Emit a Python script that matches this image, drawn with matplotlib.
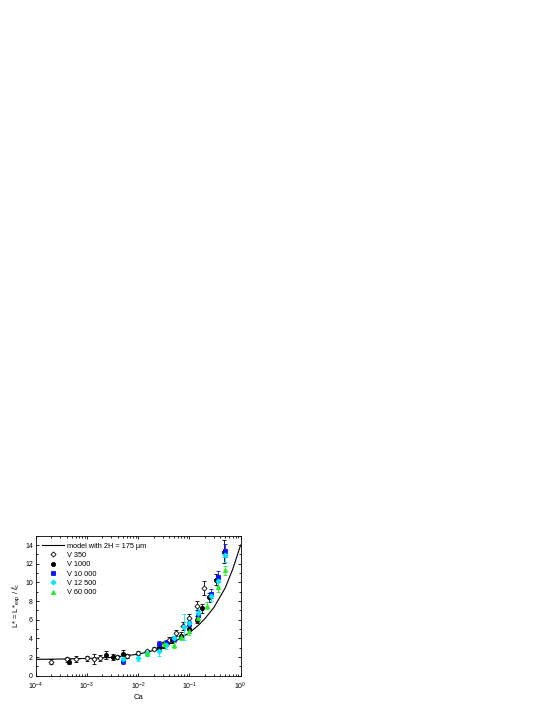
import numpy as np
import matplotlib
matplotlib.use("Agg")
import matplotlib.pyplot as plt

plt.rcParams["font.family"] = ["Liberation Sans", "DejaVu Sans"]
plt.rcParams["mathtext.fontset"] = "custom"
plt.rcParams["mathtext.rm"] = "Liberation Sans"
plt.rcParams["mathtext.it"] = "Liberation Sans:italic"

# model curve
model_ca = [1e-4, 3e-4, 1e-3, 3e-3, 1e-2, 2e-2, 3e-2, 5e-2, 0.1, 0.15, 0.2, 0.3, 0.5, 0.7, 1.0]
model_l = [1.75, 1.78, 1.85, 1.95, 2.3, 2.7, 3.05, 3.6, 4.6, 5.4, 6.1, 7.3, 9.4, 11.4, 14.0]

# V 350
v350_ca = [2e-4, 4e-4, 6e-4, 1e-3, 1.4e-3, 1.8e-3, 3.8e-3, 6e-3, 1e-2, 1.5e-2, 2e-2, 3e-2, 4e-2, 5.5e-2, 7.5e-2, 0.1, 0.14, 0.19]
v350_l = [1.5, 1.75, 1.8, 1.85, 1.8, 1.9, 2.0, 2.1, 2.4, 2.6, 2.9, 3.3, 3.8, 4.6, 5.3, 6.2, 7.5, 9.4]
v350_e = [0.3, 0.3, 0.3, 0.3, 0.5, 0.3, 0.2, 0.2, 0.2, 0.2, 0.2, 0.3, 0.3, 0.3, 0.4, 0.4, 0.5, 0.8]

# V 1000
v1000_ca = [4.5e-4, 2.4e-3, 3.3e-3, 5e-3, 2.5e-2, 4.5e-2, 7e-2, 0.1, 0.14, 0.18, 0.24, 0.33, 0.47]
v1000_l = [1.5, 2.2, 2.0, 2.3, 3.0, 3.8, 4.3, 5.0, 6.0, 7.2, 8.4, 10.3, 13.3]
v1000_e = [0.3, 0.4, 0.3, 0.5, 0.3, 0.3, 0.4, 0.4, 0.4, 0.5, 0.5, 0.6, 1.2]

# V 10 000
v10k_ca = [5e-3, 2.5e-2, 3.5e-2, 5e-2, 0.1, 0.15, 0.26, 0.36, 0.5]
v10k_l = [1.6, 3.4, 3.5, 3.9, 5.5, 6.5, 8.8, 10.6, 13.4]
v10k_e = [0.3, 0.3, 0.3, 0.3, 0.4, 0.4, 0.5, 0.6, 0.7]

# V 12 500
v12k_ca = [5e-3, 1e-2, 1.5e-2, 2.5e-2, 3.5e-2, 5e-2, 8e-2, 0.1, 0.15, 0.26, 0.37, 0.5]
v12k_l = [1.8, 1.9, 2.4, 2.6, 3.3, 4.0, 5.2, 5.6, 6.7, 8.5, 10.1, 12.9]
v12k_e = [0.3, 0.3, 0.3, 0.5, 0.4, 0.3, 1.4, 0.4, 0.4, 0.5, 0.5, 0.7]

# V 60 000
v60k_ca = [1.5e-2, 3.2e-2, 4.9e-2, 7e-2, 0.1, 0.15, 0.22, 0.36, 0.5]
v60k_l = [2.4, 3.4, 3.3, 4.1, 4.8, 6.2, 7.5, 9.5, 11.3]
v60k_e = [0.3, 0.3, 0.3, 0.3, 0.4, 0.4, 0.4, 0.5, 0.5]

fig = plt.figure(figsize=(5.45, 7.05), dpi=100)
ax = fig.add_axes([0.0655, 0.0416, 0.376, 0.1985])

ax.plot(model_ca, model_l, "-", color="black", lw=0.8, label="model with 2H = 175 µm", zorder=1)

series = [
    (v350_ca, v350_l, v350_e, "D", "white", "black", "V 350", 2.6),
    (v1000_ca, v1000_l, v1000_e, "o", "black", "black", "V 1000", 3.0),
    (v10k_ca, v10k_l, v10k_e, "s", "#1010ff", "#1010ff", "V 10 000", 2.8),
    (v12k_ca, v12k_l, v12k_e, "D", "#00e8ff", "#00e8ff", "V 12 500", 2.6),
    (v60k_ca, v60k_l, v60k_e, "^", "#22ee22", "#22ee22", "V 60 000", 3.0),
]
for ca, l, e, m, fc, ec, lab, ms in series:
    ax.errorbar(ca, l, yerr=e, fmt="none", ecolor=ec, elinewidth=0.6,
                capsize=1.5, capthick=0.6, zorder=2)
    ax.plot(ca, l, m, ms=ms, mfc=fc, mec=ec, mew=0.6, ls="none", label=lab, zorder=3)

ax.set_xscale("log")
ax.set_xlim(1e-4, 1)
ax.set_ylim(0, 15)
ax.set_yticks([0, 2, 4, 6, 8, 10, 12, 14])
ax.set_yticks(range(0, 16), minor=True)
ax.tick_params(which="both", direction="in", top=True, right=True, labelsize=5, width=0.6)
ax.tick_params(which="major", length=2.5)
ax.tick_params(axis="x", which="major", pad=3.5)
ax.tick_params(axis="y", which="major", pad=2)
ax.tick_params(which="minor", length=1.3)
for s in ax.spines.values():
    s.set_linewidth(0.6)

ax.set_xlabel("Ca", fontsize=5.5, labelpad=1.5)
ax.set_ylabel(r"L* = L*$_{\mathrm{exp}}$ / $\ell_{\mathrm{c}}$", fontsize=5.5, labelpad=2)

leg = ax.legend(loc="upper left", frameon=False, fontsize=5.3, handlelength=3.0,
                labelspacing=0.3, borderaxespad=0.5, handletextpad=0.3)

fig.savefig("out.png", dpi=100)
